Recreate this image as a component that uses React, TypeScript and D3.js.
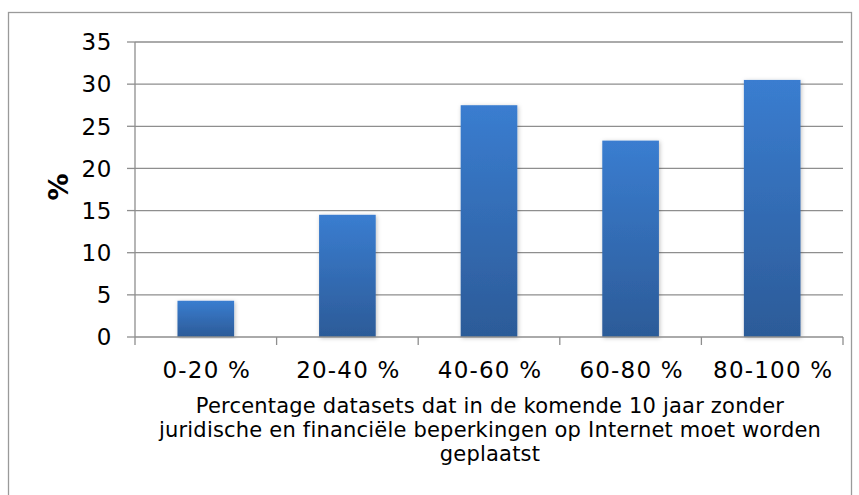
import React from "react";
import * as d3 from "d3";

const categories = ["0-20 %", "20-40 %", "40-60 %", "60-80 %", "80-100 %"];
const values = [4.3, 14.5, 27.5, 23.3, 30.5];
const yTicks = [0, 5, 10, 15, 20, 25, 30, 35];
const titleLines = [
  "Percentage datasets dat in de komende 10 jaar zonder",
  "juridische en financiële beperkingen op Internet moet worden",
  "geplaatst",
];
const yLabel = "%";

export default function App() {
  const W = 859, H = 495;
  const left = 135, right = 843, top = 42, bottom = 337;
  const x = d3.scaleBand<string>().domain(categories).range([left, right]).paddingInner(0.6).paddingOuter(0.3);
  const xOuter = d3.scaleBand<string>().domain(categories).range([left, right]);
  const y = d3.scaleLinear().domain([0, 35]).range([bottom, top]);
  const grid = "#8e8e8e";
  const font = "'DejaVu Sans', Verdana, sans-serif";
  const tickEdges = categories.map((c) => xOuter(c)!).concat([right]);
  return (
    <svg width={W} height={H} style={{ position: "absolute", left: 0, top: 0, background: "#fff" }} fontFamily={font}>
      <defs>
        <linearGradient id="barGrad" x1="0" y1="0" x2="0" y2="1">
          <stop offset="0%" stopColor="#3A7DD0" />
          <stop offset="100%" stopColor="#2C5B98" />
        </linearGradient>
        <filter id="shadow" x="-20%" y="-5%" width="140%" height="110%">
          <feDropShadow dx="1" dy="1" stdDeviation="2" floodColor="#000" floodOpacity="0.25" />
        </filter>
      </defs>
      <rect x={8.5} y={12.5} width={843} height={H} fill="#fff" stroke="#9a9a9a" strokeWidth={1.3} />
      {yTicks.map((t) => (
        <g key={t}>
          {t > 0 && <line x1={left} x2={right} y1={y(t)} y2={y(t)} stroke={grid} strokeWidth={1.3} />}
          <line x1={left - 8} x2={left} y1={y(t)} y2={y(t)} stroke={grid} strokeWidth={1.3} />
          <text x={left - 23} y={y(t)} dy="0.36em" textAnchor="end" fontSize={23} letterSpacing={0.6} fill="#000">{t}</text>
        </g>
      ))}
      <line x1={left} x2={left} y1={top} y2={bottom} stroke={grid} strokeWidth={1.3} />
      {values.map((v, i) => (
        <rect key={i} x={x(categories[i])} y={y(v)} width={x.bandwidth()} height={bottom - y(v)} fill="url(#barGrad)" filter="url(#shadow)" />
      ))}
      <line x1={left} x2={right} y1={bottom} y2={bottom} stroke={grid} strokeWidth={1.3} />
      {tickEdges.map((e, i) => (
        <line key={i} x1={e} x2={e} y1={bottom} y2={bottom + 8} stroke={grid} strokeWidth={1.3} />
      ))}
      {categories.map((c) => (
        <text key={c} x={xOuter(c)! + xOuter.bandwidth() / 2 + 1} y={378} textAnchor="middle" fontSize={23} letterSpacing={1.2} fill="#000">{c}</text>
      ))}
      {titleLines.map((l, i) => (
        <text key={i} x={(left + right) / 2 + 1} y={413 + i * 24} textAnchor="middle" fontSize={21} letterSpacing={0.2} fill="#000">{l}</text>
      ))}
      <text transform={`translate(${68},${187}) rotate(-90)`} textAnchor="middle" fontSize={27} fontWeight="bold" fill="#000">{yLabel}</text>
    </svg>
  );
}
